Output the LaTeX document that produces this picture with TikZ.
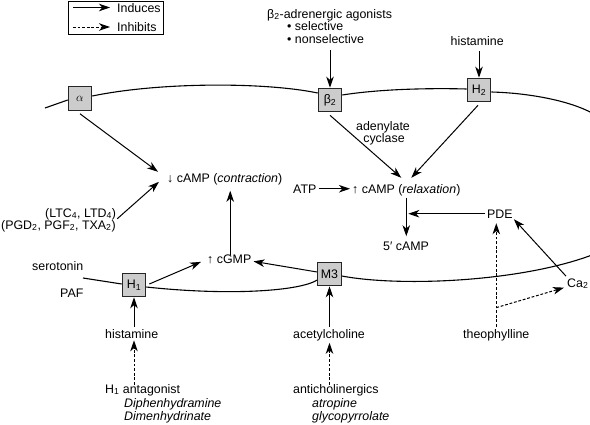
\documentclass[tikz,border=0pt]{standalone}
\usepackage{fontspec}
\setmainfont{Liberation Sans}
\usetikzlibrary{arrows.meta,calc}
\tikzset{
  tipx/.style={-{Stealth[length=11pt,width=7.5pt,inset=3.2pt]}},
  ind/.style={tipx, line width=1pt},
  inh/.style={tipx, line width=1pt, dash pattern=on 2.8pt off 1.8pt},
  mem/.style={line width=1.1pt},
  rec/.style={draw=black!85, fill=black!20, line width=1.1pt, minimum width=23.5pt, minimum height=23.5pt, inner sep=0pt},
  txt/.style={inner sep=2pt, anchor=base west},
  txtc/.style={inner sep=2pt, anchor=base},
}
\begin{document}
\begin{tikzpicture}[x=1pt,y=-1pt,font=\fontsize{12.4}{14}\selectfont]
\useasboundingbox (0,0) rectangle (590,424);
% legend
\node[draw, line width=1pt, minimum width=95pt, minimum height=33pt, inner sep=0pt] (legend) at (115.5,17.5) {};
\node[txt] (induces) at (115,12) {Induces};
\node[txt] (inhibits) at (115,31) {Inhibits};
\coordinate (la) at (73,7.5);
\coordinate (lb) at (73,27);
\draw[ind] (la) -- ($(la -| induces.west)+(-5,0)$);
\draw[inh] (lb) -- ($(lb -| inhibits.west)+(-5,0)$);
% receptor boxes
\node[rec] (alpha) at (80,98.5) {$\alpha$};
\node[rec] (beta2) at (330,100) {β\textsubscript{2}};
\node[rec] (h2) at (479,90) {H\textsubscript{2}};
\node[rec] (h1) at (134,285) {H\textsubscript{1}};
\node[rec] (m3) at (329.5,274) {M3};
% texts
\node[txt] (b2ag) at (265,18) {β\textsubscript{2}-adrenergic agonists};
\node[txt] (sel) at (285,30) {• selective};
\node[txt] (nonsel) at (285,43) {• nonselective};
\node[txt] (histT) at (448.5,45) {histamine};
\node[txtc] (aden) at (383,130) {adenylate};
\node[txtc] (cycl) at (384,142) {cyclase};
\node[txt] (contr) at (165,182) {↓ cAMP (\textit{contraction})};
\node[txt] (atp) at (291,193) {ATP};
\node[txt] (relax) at (350,193) {↑ cAMP (\textit{relaxation})};
\node[txt] (ltc) at (43,217) {(LTC\textsubscript{4}, LTD\textsubscript{4})};
\node[txt] (pgd) at (-1,229) {(PGD\textsubscript{2}, PGF\textsubscript{2}, TXA\textsubscript{2})};
\node[txt] (pde) at (485,218) {PDE};
\node[txt] (five) at (381,250) {5′ cAMP};
\node[txt] (sero) at (30,270) {serotonin};
\node[txt] (paf) at (58,297) {PAF};
\node[txt] (cgmp) at (205,263) {↑ cGMP};
\node[txt] (ca2) at (565,287) {Ca\textsubscript{2}};
\node[txt] (histB) at (103,338) {histamine};
\node[txt] (h1ant) at (103,393) {H\textsubscript{1} antagonist};
\node[txt] (diph) at (122,407) {\textit{Diphenhydramine}};
\node[txt] (dimen) at (122,420) {\textit{Dimenhydrinate}};
\node[txt] (acet) at (291,338) {acetylcholine};
\node[txt] (antic) at (291,393) {anticholinergics};
\node[txt] (atro) at (310,407) {\textit{atropine}};
\node[txt] (glyco) at (310,420) {\textit{glycopyrrolate}};
\node[txt] (theo) at (461,338) {theophylline};
% membranes
\coordinate (mU0) at (45,108);
\coordinate (mU1) at (592,113);
\coordinate (mL0) at (83,278);
\coordinate (mL1) at (592,255);
\draw[mem] (mU0) -- ($(alpha.west)+(0,1.5)$);
\draw[mem] ($(alpha.east)+(0,-2.5)$) .. controls (160,82) and (265,82) .. ($(beta2.west)+(0,-7)$);
\draw[mem] ($(beta2.east)+(0,-5)$) .. controls (380,89) and (430,88) .. ($(h2.west)+(0,-1)$);
\draw[mem] ($(h2.east)+(0,2)$) .. controls (530,93) and (570,101) .. (mU1);
\draw[mem] (mL0) -- ($(h1.west)+(0,-1)$);
\draw[mem] ($(h1.east)+(0,2)$) .. controls (230,296) and (300,291) .. ($(m3.west)+(0,6)$);
\draw[mem] ($(m3.east)+(0,2)$) .. controls (400,287) and (520,282) .. (mL1);
% connectors
\draw[ind] ($(nonsel.south -| beta2.north)+(0,5)$) -- (beta2.north);
\draw[ind] ($(histT.south -| h2.north)+(0,4)$) -- (h2.north);
\draw[ind] ($(alpha.south)+(0,3)$) -- ($(contr.west)+(-7,-7)$);
\draw[ind] ($(ltc.south east)+(-1,-3)$) -- ($(contr.west)+(-6,3)$);
\draw[ind] ($(cgmp.north)+(1,3)$) -- ($(cgmp.north |- contr.south)+(1,4)$);
\draw[ind] ($(h1.east)+(3,-1)$) -- ($(cgmp.west)+(-4,3)$);
\draw[ind] ($(m3.west)+(0,-2)$) -- ($(cgmp.east)+(0,2.5)$);
\draw[ind] ($(beta2.south)+(0,3)$) -- ($(relax.north)+(-5,-4)$);
\draw[ind] ($(h2.south)+(-1,3)$) -- ($(relax.north)+(5,-4)$);
\draw[ind] (atp.east) -- (atp.east -| relax.west);
\draw[ind] (relax.south) -- ($(relax.south |- five.north)+(0,-3)$);
\draw[ind] (pde.west) -- ($(pde.west -| relax.south)+(2,0)$);
\draw[ind] ($(ca2.north west)+(1,0)$) -- ($(pde.south east)+(-1,-1)$);
\draw[inh] (theo.north) -- ($(theo.north |- pde.south)+(0,3)$);
\draw[inh] ($(theo.north)!0.18!(theo.north |- pde.south)$) -- ($(ca2.west)+(-1,4)$);
\draw[ind] (m3.south |- acet.north) -- (m3.south);
\draw[inh] ($(m3.south |- antic.north)+(0,3)$) -- (m3.south |- acet.south);
\draw[ind] (h1.south |- histB.north) -- (h1.south);
\draw[inh] ($(h1.south |- h1ant.north)+(0,3)$) -- (h1.south |- histB.south);
\end{tikzpicture}
\end{document}
